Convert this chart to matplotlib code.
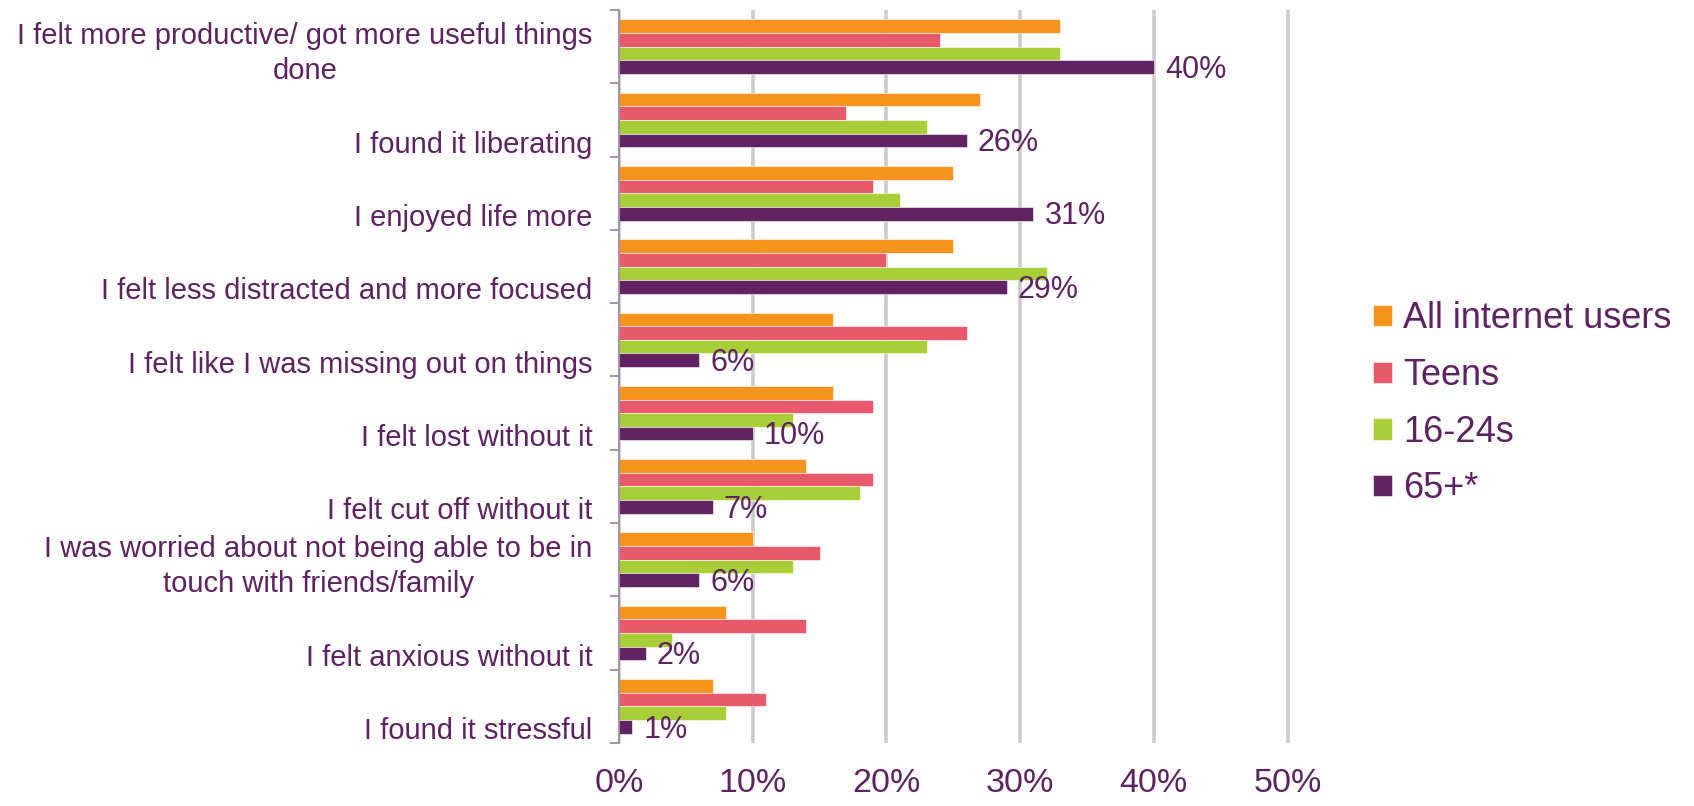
import numpy as np
import matplotlib
matplotlib.use("Agg")
import matplotlib.pyplot as plt
from matplotlib.ticker import FixedLocator, FuncFormatter

plt.rcParams['font.family'] = ['Liberation Sans', 'DejaVu Sans']

# statements, top to bottom
statements = [
    "I felt more productive/ got more useful things\ndone",
    "\nI found it liberating",
    "\nI enjoyed life more",
    "\nI felt less distracted and more focused",
    "\nI felt like I was missing out on things",
    "\nI felt lost without it",
    "\nI felt cut off without it",
    "I was worried about not being able to be in\ntouch with friends/family",
    "\nI felt anxious without it",
    "\nI found it stressful",
]

series_names = ["All internet users", "Teens", "16-24s", "65+*"]

all_users = [33, 27, 25, 25, 16, 16, 14, 10, 8, 7]
teens = [24, 17, 19, 20, 26, 19, 19, 15, 14, 11]
age_16_24 = [33, 23, 21, 32, 23, 13, 18, 13, 4, 8]
age_65_plus = [40, 26, 31, 29, 6, 10, 7, 6, 2, 1]

colors = ["#F7941D", "#E85A6B", "#A8CF38", "#622362"]
text_color = "#5E2262"
axis_color = "#9C8BA4"

W, H = 1694, 806
fig = plt.figure(figsize=(W / 100, H / 100), dpi=100)
x_max = 50.3
ax = fig.add_axes([619 / W, 63 / H, x_max * 13.37 / W, 733 / H])

y = np.arange(len(statements))
bar_h = 0.186
offsets = (np.arange(4) - 1.5) * bar_h
values = [all_users, teens, age_16_24, age_65_plus]

for vals, off, c, name in zip(values, offsets, colors, series_names):
    ax.barh(y + off, vals, height=bar_h, color=c, label=name,
            edgecolor="white", linewidth=0.4, zorder=2)

# value labels on the 65+ series only
for yi, v in zip(y + offsets[3], age_65_plus):
    ax.annotate(f"{v}%", xy=(v, yi), xytext=(8, -2), textcoords="offset points",
                ha="left", va="center", fontsize=22, color=text_color, zorder=3)

ax.set_xlim(0, x_max)
ax.set_ylim(len(statements) - 0.5, -0.5)

ax.set_xticks([0, 10, 20, 30, 40, 50])
ax.xaxis.set_major_formatter(FuncFormatter(lambda v, p: f"{v:.0f}%"))
ax.tick_params(axis="x", length=0, pad=18, labelsize=24.5, labelcolor=text_color)
ax.xaxis.grid(True, color="#CBCBCB", linewidth=2.6)
ax.set_axisbelow(True)

ax.set_yticks(y)
ax.set_yticklabels(statements, fontsize=21, color=text_color,
                   multialignment="center", linespacing=1.35)
ax.tick_params(axis="y", which="major", length=0, pad=19)
ax.yaxis.set_minor_locator(FixedLocator(np.arange(len(statements) + 1) - 0.5))
ax.tick_params(axis="y", which="minor", length=6.5, width=1.3, color=axis_color)

for s in ["top", "right", "bottom"]:
    ax.spines[s].set_visible(False)
ax.spines["left"].set_color(axis_color)
ax.spines["left"].set_linewidth(1.3)
ax.spines["left"].set_zorder(4)

fig.legend(loc="center left", bbox_to_anchor=(1373 / W, 402 / H), frameon=False,
           fontsize=26, labelcolor=text_color, handlelength=0.53,
           handleheight=0.53, handletextpad=0.3, labelspacing=0.6,
           borderpad=0, borderaxespad=0)

fig.savefig("out.png", dpi=100)
